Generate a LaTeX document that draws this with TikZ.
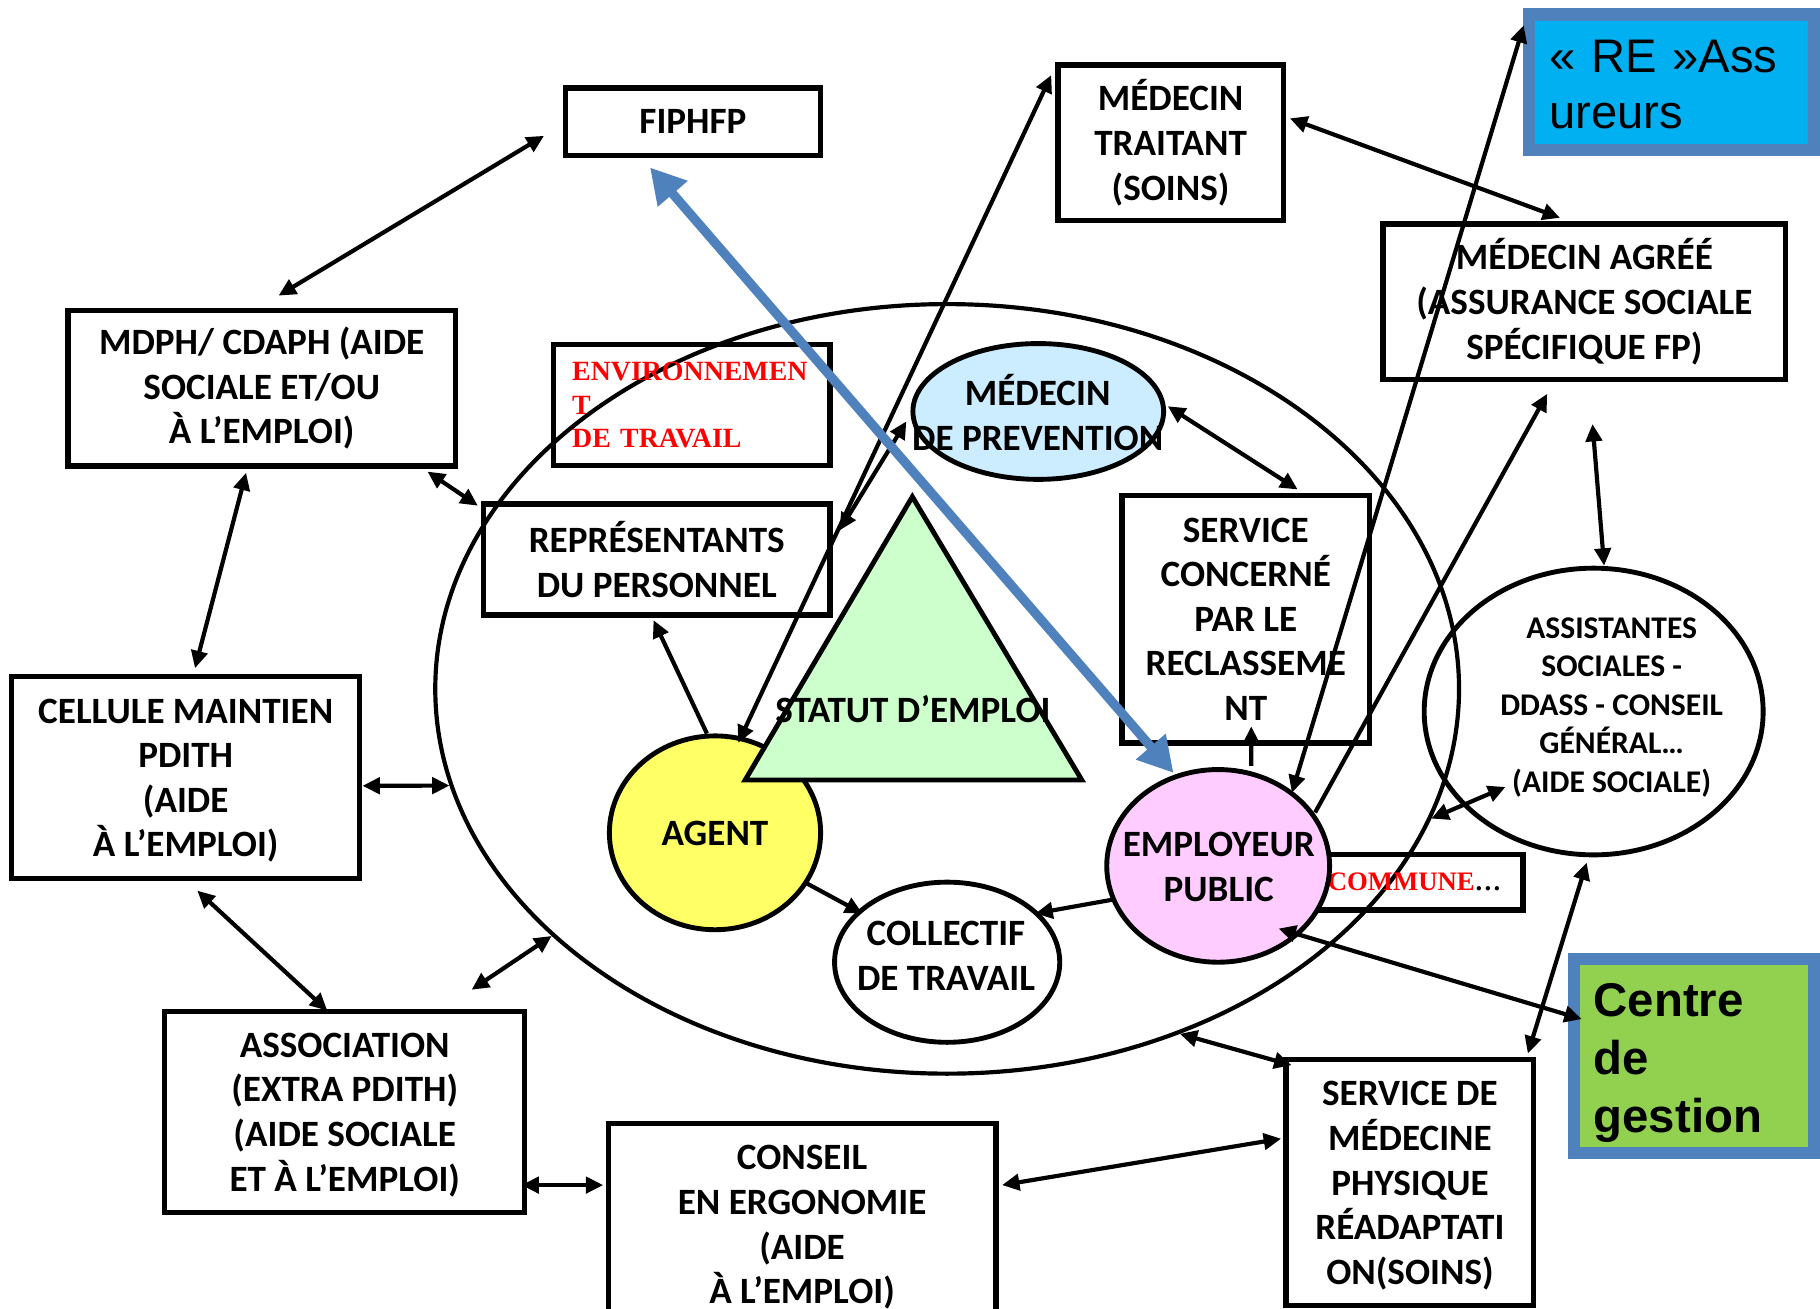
\documentclass[tikz,border=0pt]{standalone}
\usepackage{fontspec}
\usetikzlibrary{shapes.geometric,arrows.meta}
\newfontfamily\carlito{Carlito}
\newfontfamily\libserif{Liberation Serif}
\newfontfamily\libsans{Liberation Sans}
\newcommand\lblfont{\carlito\bfseries\fontsize{16}{19.2}\selectfont}
\newcommand\asfont{\carlito\bfseries\fontsize{13.6}{16.6}\selectfont}
\newcommand\redfont{\libserif\bfseries\fontsize{12}{14.4}\selectfont}
\newcommand\comfont{\libserif\bfseries\fontsize{11.5}{13.8}\selectfont}
\newcommand\refont{\libsans\fontsize{20.3}{24}\selectfont}
\newcommand\cdgfont{\libsans\bfseries\fontsize{20.4}{25}\selectfont}
\definecolor{stblue}{HTML}{4F81BD}
\definecolor{recyan}{HTML}{00B0F0}
\definecolor{cdggreen}{HTML}{92D050}
\definecolor{prevblue}{HTML}{CCECFF}
\definecolor{trigreen}{HTML}{CCFFCC}
\definecolor{agentyellow}{HTML}{FFFF66}
\definecolor{emppink}{HTML}{FFCCFF}
\definecolor{redtxt}{HTML}{FF0000}
\tikzset{
  box/.style={draw, line width=2.3pt, rectangle, inner sep=0pt, font=\lblfont, align=center},
  ell/.style={draw, line width=2.1pt, ellipse, inner sep=0pt},
  lbl/.style={font=\lblfont, align=center, inner sep=0pt},
  arr/.style={line width=1.8pt, -{Triangle[length=7.5pt,width=7pt]}},
  biarr/.style={line width=1.8pt, {Triangle[length=7.5pt,width=7pt]}-{Triangle[length=7.5pt,width=7pt]}},
  bluearr/.style={line width=4pt, draw=stblue, {Triangle[length=15pt,width=16pt]}-{Triangle[length=15pt,width=16pt]}},
}
\begin{document}
\begin{tikzpicture}[x=0.5pt,y=-0.5pt]
\useasboundingbox (0,0) rectangle (1568,1127);
\clip (0,0) rectangle (1568,1127);
\fill[white] (0,0) rectangle (1568,1127);

% big ellipse
\node[ell, line width=1.8pt, minimum width=441pt, minimum height=331.5pt] (big) at (816,593.5) {};

% boxes
\node[box, minimum width=110pt, minimum height=29pt] (fiphfp) at (597,104.7) {FIPHFP};
\node[box, minimum width=97pt, minimum height=67pt] (traitant) at (1008.5,123) {MÉDECIN\\TRAITANT\\(SOINS)};
\node[box, minimum width=173.5pt, minimum height=67pt] (agree) at (1365,260) {MÉDECIN AGRÉÉ\\(ASSURANCE SOCIALE\\SPÉCIFIQUE FP)};
\node[box, minimum width=167pt, minimum height=67pt] (mdph) at (225.5,334.5) {MDPH/ CDAPH (AIDE\\SOCIALE ET/OU\\À L’EMPLOI)};
\node[box, minimum width=119.2pt, minimum height=52.2pt, inner xsep=8.2pt, text width=102.8pt, align=left, font=\redfont, text=redtxt] (env) at (595.8,349) {ENVIRONNEMEN\\T\\DE TRAVAIL};
\node[box, minimum width=149.2pt, minimum height=47.8pt] (rep) at (565.8,482) {REPRÉSENTANTS\\DU PERSONNEL};
\node[box, minimum width=106.8pt, minimum height=106.5pt] (sc) at (1073.3,533.5) {SERVICE\\CONCERNÉ\\PAR LE\\RECLASSEME\\NT};
\node[box, minimum width=150pt, minimum height=87pt] (cell) at (160,670) {\rule{0pt}{13pt}CELLULE MAINTIEN\\PDITH\\(AIDE\\À L’EMPLOI)};
\node[box, minimum width=155pt, minimum height=86.5pt] (assoc) at (297,958) {\rule{0pt}{13pt}ASSOCIATION\\(EXTRA PDITH)\\(AIDE SOCIALE\\ET À L’EMPLOI)};
\node[box, minimum width=167pt, minimum height=87pt] (conseil) at (691,1055) {\rule{0pt}{13pt}CONSEIL\\EN ERGONOMIE\\(AIDE\\À L’EMPLOI)};
\node[box, minimum width=106.7pt, minimum height=106pt] (smed) at (1214.7,1019) {\rule{0pt}{13pt}SERVICE DE\\MÉDECINE\\PHYSIQUE\\RÉADAPTATI\\ON(SOINS)};
\node[box, minimum width=88.5pt, minimum height=24pt, inner xsep=4.5pt, text width=79.5pt, align=left, font=\comfont, text=redtxt] (commune) at (1223.5,760) {COMMUNE\textcolor{black}{…}};

% filled shapes
\node[ell, fill=prevblue, minimum width=108pt, minimum height=58.5pt] (prev) at (894.5,354.5) {};
\node[ell, fill=agentyellow, minimum width=91pt, minimum height=83.5pt] (agent) at (616,717.5) {};
\coordinate (triA) at (786,428);
\coordinate (triB) at (932,672);
\coordinate (triC) at (642,672);
\draw[line width=2.1pt, fill=trigreen] (triA) -- (triB) -- (triC) -- cycle;
\node[ell, fill=emppink, minimum width=96pt, minimum height=83pt] (emp) at (1049.5,746) {};
\node[ell, fill=white, minimum width=97pt, minimum height=69pt] (coll) at (816,829) {};
\node[ell, minimum width=146pt, minimum height=123.5pt] (assist) at (1373,613) {};

\node[draw=stblue, fill=recyan, line width=5.25pt, rectangle, minimum width=122.75pt, minimum height=58.25pt, inner xsep=8.75pt, inner ysep=0pt, text width=105.25pt, align=left, font=\refont] (re) at (1440.25,70.75) {\rule{0pt}{16pt}« RE »Ass\\ureurs};
\node[draw=stblue, fill=cdggreen, line width=5.25pt, rectangle, minimum width=103.5pt, minimum height=83.5pt, inner xsep=8.5pt, inner ysep=0pt, text width=86.5pt, align=left, font=\cdgfont] (cdg) at (1459.5,909.5) {\rule{0pt}{20.6pt}Centre\\de\\gestion};

% connectors
\draw[biarr] ([shift={(-16,12.3)}]fiphfp.west) -- ([shift={(14.5,-10.5)}]mdph.north);
\draw[biarr] ([shift={(-13.5,3.5)}]mdph.south) -- ([shift={(8,-5)}]cell.north);
\draw[biarr] ([shift={(-26.5,2.5)}]mdph.south east) -- ([shift={(-2.6,3.8)}]rep.north west);
\draw[biarr] ([shift={(0,7)}]cell.east) -- (big.191);
\draw[biarr] ([shift={(10,8)}]cell.south) -- ([shift={(-15,1.5)}]assoc.north);
\draw[biarr] ([shift={(-48,-16.5)}]assoc.north east) -- (big.212);
\draw[biarr] ([shift={(-5,63)}]assoc.east) -- ([shift={(-2,-34)}]conseil.west);
\draw[biarr] ([shift={(3,-34)}]conseil.east) -- ([shift={(-2,-38)}]smed.west);
\draw[biarr] ([shift={(7,7)}]smed.north west) -- (big.304);
\draw[biarr] ([shift={(-7.4,-3)}]smed.north east) -- ([shift={(-6,4.5)}]assist.south);
\draw[biarr] ([shift={(12,-31.5)}]cdg.west) -- ([shift={(52,54)}]emp.center);
\draw[biarr] (big.345) -- ([shift={(-76,65)}]assist.center);
\draw[biarr] ([shift={(7,36)}]agree.south) -- ([shift={(9,0)}]assist.north);
\draw[arr] ([shift={(83.5,-46)}]emp.center) -- ([shift={(-32,10)}]agree.south);
\draw[biarr] ([shift={(0.5,14.5)}]re.north west) -- ([shift={(63.5,-63)}]emp.center);
\draw[arr] ([shift={(28.5,-1)}]emp.north) -- ([shift={(4.7,-16.5)}]sc.south);
\draw[biarr] ([shift={(1.5,-4.5)}]prev.east) -- ([shift={(44.7,-3)}]sc.north);
\draw[arr] ([shift={(-7,0)}]agent.north) -- ([shift={(-2.8,2.2)}]rep.south);
\draw[biarr] ([shift={(20,-77.5)}]agent.center) -- ([shift={(-3.5,11)}]traitant.north west);
\draw[biarr] ([shift={(6,-25)}]rep.east) -- ([shift={(-3.5,8.5)}]prev.west);
\draw[arr] ([shift={(78,43)}]agent.center) -- ([shift={(-73,-42)}]coll.center);
\draw[arr] ([shift={(-90.5,29)}]emp.center) -- ([shift={(76,-42)}]coll.center);
\draw[biarr] ([shift={(3.5,-21)}]traitant.east) -- ([shift={(-21,-3)}]agree.north);
\draw[bluearr] ([shift={(-37,8.3)}]fiphfp.south) -- ([shift={(-38.5,5)}]emp.north);

% labels of shapes
\node[lbl] (prevtext) at (894,355.5) {MÉDECIN\\DE PREVENTION};
\node[lbl] (agenttext) at (616,718) {AGENT};
\node[lbl] (statut) at (786.5,611) {STATUT D’EMPLOI};
\node[lbl] (emptext) at (1050,747) {EMPLOYEUR\\PUBLIC};
\node[lbl] (colltext) at (815,823.5) {COLLECTIF\\DE TRAVAIL};
\node[lbl, font=\asfont] (assisttext) at (1388.5,609.5) {ASSISTANTES\\SOCIALES -\\DDASS - CONSEIL\\GÉNÉRAL…\\(AIDE SOCIALE)};
\end{tikzpicture}
\end{document}
